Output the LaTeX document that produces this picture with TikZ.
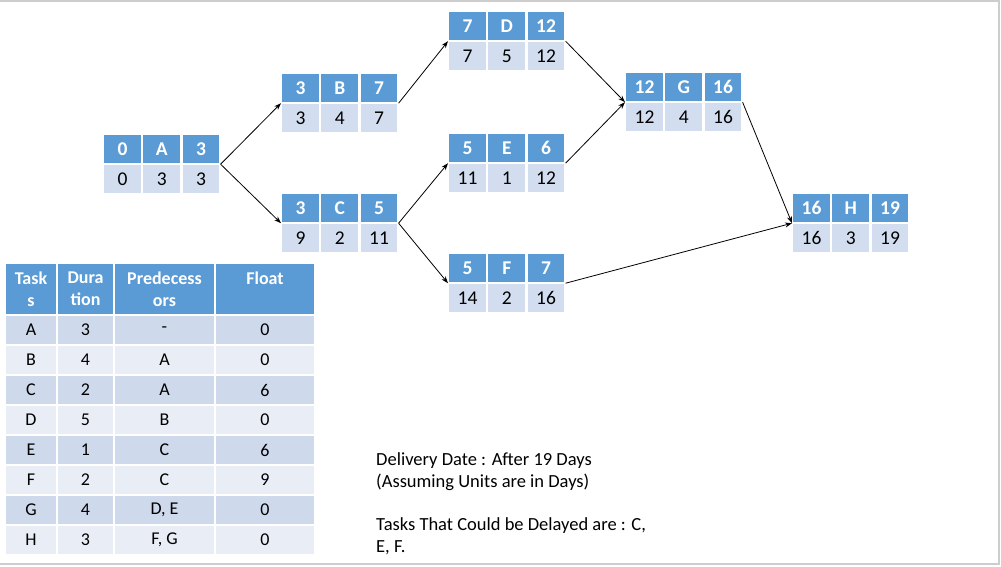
\documentclass[tikz,border=0pt]{standalone}
\usepackage{fontspec}
\setmainfont{Carlito}
\usepackage{tikz}
\usepackage{xcolor}
\usetikzlibrary{positioning, arrows.meta}

\definecolor{headblue}{RGB}{91,155,213}
\definecolor{cellblue}{RGB}{210,222,239}
\definecolor{rowdark}{RGB}{207,217,236}
\definecolor{rowlight}{RGB}{233,237,245}
\definecolor{framegray}{RGB}{205,205,205}

\tikzset{
    headcell/.style={draw=white, line width=1.2pt, fill=headblue, text=white,
        font=\fontsize{19.5}{22}\selectfont\bfseries,
        minimum width=38pt, minimum height=29pt, inner sep=0pt},
    lowcell/.style={draw=white, line width=1.2pt, fill=cellblue, text=black,
        font=\fontsize{19.5}{22}\selectfont,
        minimum width=38pt, minimum height=29pt, inner sep=0pt},
    tabhead/.style={draw=white, line width=1.2pt, fill=headblue, text=white,
        font=\fontsize{18}{22}\selectfont\bfseries, align=center,
        minimum height=52pt, inner sep=0pt},
    tabcell/.style={draw=white, line width=1.2pt, text=black,
        font=\fontsize{18}{22}\selectfont,
        minimum height=30pt, inner sep=0pt},
    arr/.style={-{Stealth[length=7pt,width=5pt]}, line width=0.8pt, black}
}

% one activity box: name, top left corner, then ES / task / EF and LS / duration / LF
\newcommand{\pertbox}[9]{
    \node[headcell, anchor=north west] (#1-t1) at (#2,#3) {#4};
    \node[headcell, right=0pt of #1-t1] (#1-t2) {#5};
    \node[headcell, right=0pt of #1-t2] (#1-t3) {#6};
    \node[lowcell, below=0pt of #1-t1] (#1-b1) {#7};
    \node[lowcell, below=0pt of #1-t2] (#1-b2) {#8};
    \node[lowcell, below=0pt of #1-t3] (#1-b3) {#9};
}

\begin{document}
\begin{tikzpicture}[x=1pt, y=-1pt]
    \useasboundingbox (0,0) rectangle (1001,566);
    \fill[white] (0,0) rectangle (1001,566);
    % slide frame
    \draw[framegray, line width=2pt] (0,1) -- (999,1) -- (999,564) -- (0,564);

    % activity boxes
    \pertbox{A}{103}{134}{0}{A}{3}{0}{3}{3}
    \pertbox{B}{281}{73}{3}{B}{7}{3}{4}{7}
    \pertbox{C}{281}{193}{3}{C}{5}{9}{2}{11}
    \pertbox{D}{448}{11}{7}{D}{12}{7}{5}{12}
    \pertbox{E}{448}{133}{5}{E}{6}{11}{1}{12}
    \pertbox{F}{448}{253}{5}{F}{7}{14}{2}{16}
    \pertbox{G}{625}{72}{12}{G}{16}{12}{4}{16}
    \pertbox{H}{792}{193}{16}{H}{19}{16}{3}{19}

    % dependencies
    \draw[arr] (A-t3.south east) -- (B-t1.south west);
    \draw[arr] (A-t3.south east) -- (C-t1.south west);
    \draw[arr] (B-t3.south east) -- (D-t1.south west);
    \draw[arr] (C-t3.south east) -- (E-t1.south west);
    \draw[arr] (C-t3.south east) -- (F-t1.south west);
    \draw[arr] (D-t3.south east) -- (G-t1.south west);
    \draw[arr] (E-t3.south east) -- (G-t1.south west);
    \draw[arr] (G-t3.south east) -- (H-t1.south west);
    \draw[arr] (F-t3.south east) -- (H-t1.south west);

    % task table - header
    \node[tabhead, minimum width=52pt] (th1) at (31,289) {Task\\s};
    \node[tabhead, minimum width=57pt] (th2) at (85.5,289) {Dura\\tion};
    \node[tabhead, minimum width=101pt] (th3) at (164.5,289) {Predecess\\ors};
    \node[tabhead, minimum width=100pt] (th4) at (265,289) {Float\\\mbox{}};

    % task table - rows
    \foreach \task/\dur/\pred/\flt [count=\i] in
        {A/3/-/0, B/4/A/0, C/2/A/6, D/5/B/0, E/1/C/6, F/2/C/9, G/4/{D, E}/0, H/3/{F, G}/0} {
        \ifodd\i \def\rowcol{rowdark}\else\def\rowcol{rowlight}\fi
        \pgfmathsetmacro{\yy}{330+30*(\i-1)}
        \node[tabcell, fill=\rowcol, minimum width=52pt] (tr\i-1) at (31,\yy) {\task};
        \node[tabcell, fill=\rowcol, minimum width=57pt] (tr\i-2) at (85.5,\yy) {\dur};
        \node[tabcell, fill=\rowcol, minimum width=101pt] (tr\i-3) at (164.5,\yy) {\pred};
        \node[tabcell, fill=\rowcol, minimum width=100pt] (tr\i-4) at (265,\yy) {\flt};
    }

    % notes
    \node[anchor=north west, inner sep=0pt, align=left,
        font=\fontsize{18.5}{22}\selectfont] (notes) at (376,452)
        {Delivery Date : After 19 Days\\(Assuming Units are in Days)\\[21pt]Tasks That Could be Delayed are : C,\\E, F.};
\end{tikzpicture}
\end{document}
